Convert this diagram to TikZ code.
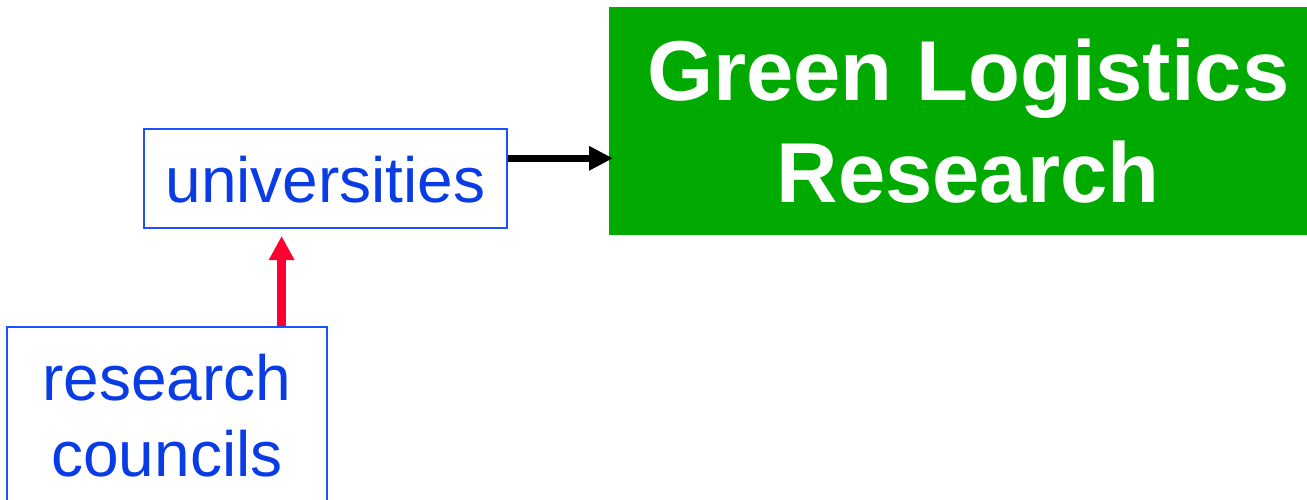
\documentclass[tikz,border=0pt]{standalone}
\usepackage{fontspec}
\setmainfont{Liberation Sans}
\usetikzlibrary{arrows.meta,calc}
\definecolor{boxblue}{RGB}{30,80,255}
\definecolor{textblue}{RGB}{10,60,230}
\definecolor{leafgreen}{RGB}{0,170,0}
\definecolor{flowred}{RGB}{255,0,51}
\tikzset{
  bluebox/.style={draw=boxblue, line width=2pt, text=textblue,
    font=\fontsize{64}{76}\selectfont, align=center},
  greenbox/.style={fill=leafgreen, text=white, align=center,
    font=\fontsize{85}{102}\selectfont\bfseries},
  blackflow/.style={line width=7.5pt, -{Triangle[length=24pt,width=23pt]}},
  redflow/.style={flowred, line width=8.5pt, -{Triangle[length=24pt,width=24pt]}}
}
\begin{document}
\begin{tikzpicture}[x=1pt, y=-1pt]
  \useasboundingbox (0,0) rectangle (1307,499);

  % boxes
  \node[greenbox, anchor=north west, minimum width=718pt, minimum height=228pt]
    (glr) at (609,7) {Green Logistics\\Research};
  \node[bluebox, minimum width=363pt, minimum height=99pt,
    text height=47pt, text depth=0pt] (uni) at (325.5,178.5) {universities};
  \node[bluebox, anchor=north, minimum width=320pt, inner ysep=27pt]
    (rc) at (167,326) {research\\councils};

  % connectors
  \coordinate (uniout) at ($(uni.north east)!0.3!(uni.south east)$);
  \draw[blackflow, shorten >=-4pt] (uniout) -- (uniout -| glr.west);
  \coordinate (rcout) at ($(rc.north west)!0.856!(rc.north east)$);
  \draw[redflow, shorten >=7pt] (rcout) -- (rcout |- uni.south);
\end{tikzpicture}
\end{document}
